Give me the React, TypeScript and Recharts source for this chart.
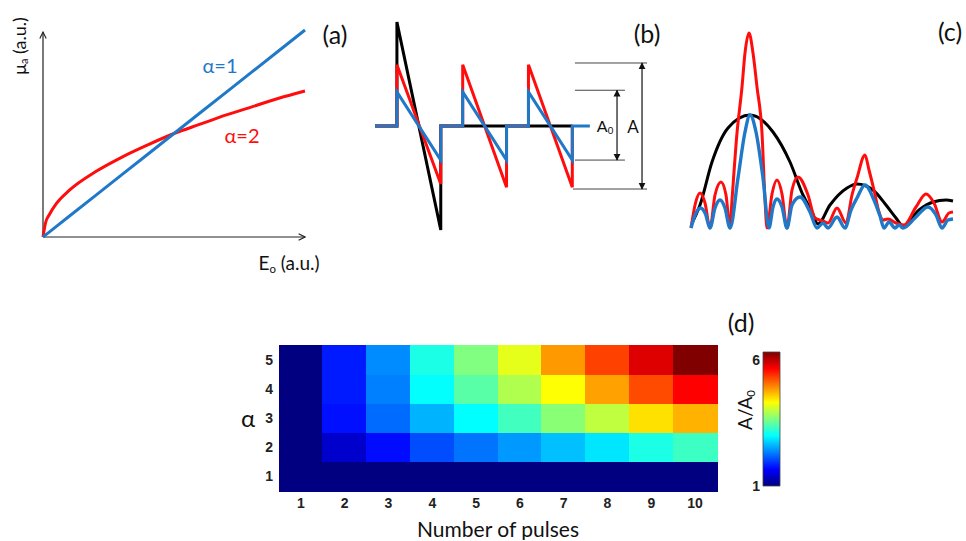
import React from "react";
import {
  LineChart,
  Line,
  XAxis,
  YAxis,
  ReferenceLine,
  ScatterChart,
  Scatter,
  BarChart,
  Bar,
} from "recharts";

// (a) absorption vs fluence
const energy = [0, 0.1, 0.25, 0.5, 1, 2, 3, 4, 5, 6, 7, 8, 9, 10];
const muAlpha1 = [0, 0.1, 0.25, 0.5, 1, 2, 3, 4, 5, 6, 7, 8, 9, 10];
const muAlpha2 = [0, 0.7, 1.1, 1.6, 2.25, 3.15, 3.85, 4.45, 5.0, 5.45, 5.9, 6.3, 6.7, 7.05];

// (b) pulse trains
const blackT = [0, 1, 1, 3, 3, 9];
const blackV = [0, 0, 3.05, -3.05, 0, 0];
const redT = [0, 1, 1, 3, 3, 4, 4, 6, 6, 7, 7, 9, 9];
const redV = [0, 0, 1.8, -1.7, 0, 0, 1.8, -1.8, 0, 0, 1.8, -1.8, 0];
const blueT = [0, 1, 1, 3, 3, 4, 4, 6, 6, 7, 7, 9, 9, 9.8];
const blueV = [0, 0, 1, -1, 0, 0, 1, -1, 0, 0, 1, -1, 0, 0];

// (c) spectra
const blackF = [0.1, 0.9, 2.1, 3.7, 5.9, 8.2, 9.9, 11.2, 12.1, 12.7, 13.9, 15.6, 16.6, 18.2, 19.5, 20.5, 21.2, 22.8, 24.2, 25.5, 26.2];
const blackS = [0.5, 2.3, 6.6, 10.0, 11.3, 9.6, 6.6, 3.3, 1.6, 0.4, 2.3, 4.0, 4.4, 3.8, 2.3, 1.0, 0.2, 1.8, 2.6, 2.8, 2.7];
const redF = [0, 0.45, 0.9, 1.4, 1.9, 2.4, 3.0, 3.5, 3.9, 4.1, 4.6, 5.1, 5.4, 5.8, 6.2, 6.6, 7.1, 7.4, 7.6, 8.1, 8.6, 9.1, 9.6, 10.1, 10.7, 11.7, 12.4, 13.2, 13.7, 14.6, 15.5, 16.1, 16.6, 17.4, 17.8, 18.3, 18.8, 19.2, 19.7, 20.5, 21.3, 22.5, 23.5, 24.3, 25.1, 25.8, 26.2];
const redS = [0, 2.5, 3.5, 2.5, 0, 3.3, 4.6, 3.3, 0, 2.8, 9.5, 14.1, 17.5, 19.5, 17.5, 14.1, 9.5, 2.8, 0, 3.4, 4.8, 3.4, 0, 3.8, 5.1, 3.3, 1.0, 0.7, 0.5, 2.0, 0.5, 3.3, 5.0, 7.3, 5.8, 3.8, 1.6, 0.8, 0.9, 0.5, 0.3, 2.1, 3.4, 2.5, 0.6, 1.5, 1.6];
const blueF = [0, 0.45, 0.95, 1.45, 1.9, 2.4, 2.9, 3.4, 3.9, 4.7, 5.4, 5.9, 6.5, 7.2, 7.8, 8.2, 8.6, 9.1, 9.6, 10.1, 10.9, 11.9, 12.6, 13.2, 13.7, 14.6, 15.4, 16.0, 16.6, 17.4, 18.3, 18.9, 19.3, 19.8, 20.4, 20.8, 21.2, 22.4, 23.7, 24.5, 25.1, 25.7, 26.2];
const blueS = [0, 1.4, 2.0, 1.4, 0, 2.0, 2.8, 2.0, 0, 5.0, 9.6, 11.3, 9.6, 5.0, 0, 2.1, 2.9, 2.1, 0, 2.3, 3.1, 1.6, 0, 0.5, 0, 1.1, 0, 1.8, 3.0, 4.3, 2.8, 1.2, 0, 0.6, 0, 0.3, 0, 1.0, 2.1, 1.3, 0, 0.8, 0.9];

// (d) A/A0 map, one array per alpha row
const pulses = [1, 2, 3, 4, 5, 6, 7, 8, 9, 10];
const alphas = [1, 2, 3, 4, 5];
const ratioAlpha1 = [1, 1, 1, 1, 1, 1, 1, 1, 1, 1];
const ratioAlpha2 = [1, 1.4, 1.72, 2.06, 2.26, 2.46, 2.66, 2.86, 3.12, 3.3];
const ratioAlpha3 = [1, 1.74, 2.22, 2.59, 2.99, 3.32, 3.7, 3.98, 4.47, 4.71];
const ratioAlpha4 = [1, 1.8, 2.33, 3.0, 3.45, 3.9, 4.3, 4.8, 5.25, 5.64];
const ratioAlpha5 = [1, 1.8, 2.39, 3.12, 3.65, 4.18, 4.84, 5.3, 5.81, 6.3];
const cbarTicks = [1, 6];
const cbarMinor = [1, 1.5, 2, 2.5, 3, 3.5, 4, 4.5, 5, 5.5, 6];

const BLUE = "#1f78c8";
const RED = "#ff0d0d";
const LABEL_FONT = "Lato, 'Open Sans', sans-serif";
const TICK_FONT = "'Liberation Sans', Arial, sans-serif";
const C_MIN = 1;
const C_MAX = 6.3;

const clamp = (v: number) => Math.max(0, Math.min(1, v));
const jet = (v: number) => {
  const t = (v - C_MIN) / (C_MAX - C_MIN);
  const r = clamp(1.5 - Math.abs(4 * t - 3));
  const g = clamp(1.5 - Math.abs(4 * t - 2));
  const b = clamp(1.5 - Math.abs(4 * t - 1));
  return `rgb(${Math.round(r * 255)},${Math.round(g * 255)},${Math.round(b * 255)})`;
};

const zip = (xs: number[], ys: number[]) => xs.map((x, i) => ({ x, y: ys[i] }));

const panelA = energy.map((e, i) => ({ e, a1: muAlpha1[i], a2: muAlpha2[i] }));

const ratioRows = [ratioAlpha1, ratioAlpha2, ratioAlpha3, ratioAlpha4, ratioAlpha5];
const cells = alphas.flatMap((a, r) =>
  pulses.map((n, c) => ({ n, a, v: ratioRows[r][c] }))
);

const HEAT_W = 438;
const HEAT_H = 146;
const CELL_W = HEAT_W / pulses.length;
const CELL_H = HEAT_H / alphas.length;

const HeatCell = (props: any) => {
  const { cx, cy, payload } = props;
  const fill = jet(payload.v);
  return (
    <rect
      x={cx - CELL_W / 2 - 0.5}
      y={cy - CELL_H / 2 - 0.5}
      width={CELL_W + 1}
      height={CELL_H + 1}
      fill={fill}
      shapeRendering="crispEdges"
    />
  );
};

const Txt = ({ x, y, size = 20, color = "#111", rotate = 0, family = LABEL_FONT, children }: any) => (
  <div
    style={{
      position: "absolute",
      left: x,
      top: y,
      transform: `translate(-50%, -50%) rotate(${rotate}deg)`,
      fontFamily: family,
      fontSize: size,
      color,
      whiteSpace: "nowrap",
      lineHeight: 1,
    }}
  >
    {children}
  </div>
);

const subStyle = { fontSize: "0.6em", verticalAlign: "-0.25em" };
const tickStyle = { fontFamily: TICK_FONT, fontSize: 14, fontWeight: "bold", fill: "#222" };

export default function App() {
  return (
    <div
      style={{
        position: "absolute",
        left: 0,
        top: 0,
        width: 966,
        height: 541,
        background: "#fff",
        overflow: "hidden",
      }}
    >
      {/* (a) */}
      <div style={{ position: "absolute", left: 0, top: 0 }}>
        <LineChart width={360} height={290} data={panelA} margin={{ top: 30, right: 55, bottom: 53, left: 43 }}>
          <defs>
            <marker id="openArrow" viewBox="0 0 10 10" refX="9" refY="5" markerWidth="8" markerHeight="8" orient="auto" markerUnits="userSpaceOnUse">
              <path d="M1,1 L9,5 L1,9" fill="none" stroke="#222" strokeWidth="1.4" />
            </marker>
          </defs>
          <XAxis type="number" dataKey="e" domain={[0, 10]} hide />
          <YAxis type="number" domain={[0, 10]} hide />
          <ReferenceLine segment={[{ x: 0, y: 0 }, { x: 10, y: 0 }]} stroke="#222" strokeWidth={1.2} markerEnd="url(#openArrow)" />
          <ReferenceLine segment={[{ x: 0, y: 0 }, { x: 0, y: 9.9 }]} stroke="#222" strokeWidth={1.2} markerEnd="url(#openArrow)" />
          <Line type="monotone" dataKey="a2" stroke={RED} strokeWidth={3} dot={false} isAnimationActive={false} />
          <Line type="linear" dataKey="a1" stroke={BLUE} strokeWidth={3} dot={false} isAnimationActive={false} />
        </LineChart>
      </div>
      <Txt x={20} y={46} size={18} rotate={-90}>
        μ<span style={subStyle}>a</span> (a.u.)
      </Txt>
      <Txt x={289} y={264} size={19}>
        E<span style={subStyle}>o</span> (a.u.)
      </Txt>
      <Txt x={220} y={65} size={20} color={BLUE}>α=1</Txt>
      <Txt x={242} y={135} size={20} color={RED}>α=2</Txt>
      <Txt x={335} y={34} size={25}>(a)</Txt>

      {/* (b) */}
      <div style={{ position: "absolute", left: 360, top: 0 }}>
        <LineChart width={310} height={250} margin={{ top: 17, right: 10, bottom: 15, left: 15 }}>
          <defs>
            <marker id="solidArrow" viewBox="0 0 10 10" refX="9" refY="5" markerWidth="7" markerHeight="8" orient="auto-start-reverse" markerUnits="userSpaceOnUse">
              <path d="M0,0 L10,5 L0,10 z" fill="#111" />
            </marker>
          </defs>
          <XAxis type="number" dataKey="x" domain={[0, 13]} hide />
          <YAxis type="number" dataKey="y" domain={[-3.2, 3.2]} hide />
          <Line data={zip(blackT, blackV)} dataKey="y" type="linear" stroke="#000" strokeWidth={3} dot={false} isAnimationActive={false} />
          <Line data={zip(redT, redV)} dataKey="y" type="linear" stroke={RED} strokeWidth={3} dot={false} isAnimationActive={false} />
          <Line data={zip(blueT, blueV)} dataKey="y" type="linear" stroke={BLUE} strokeWidth={3} dot={false} isAnimationActive={false} />
          <ReferenceLine segment={[{ x: 9.12, y: 1.85 }, { x: 12.41, y: 1.85 }]} stroke="#444" strokeWidth={1} />
          <ReferenceLine segment={[{ x: 9.12, y: 1.05 }, { x: 11.4, y: 1.05 }]} stroke="#444" strokeWidth={1} />
          <ReferenceLine segment={[{ x: 9.12, y: -1.0 }, { x: 11.4, y: -1.0 }]} stroke="#444" strokeWidth={1} />
          <ReferenceLine segment={[{ x: 9.03, y: -1.85 }, { x: 12.41, y: -1.85 }]} stroke="#444" strokeWidth={1} />
          <ReferenceLine segment={[{ x: 11.04, y: -1.0 }, { x: 11.04, y: 1.05 }]} stroke="#111" strokeWidth={1.2} markerStart="url(#solidArrow)" markerEnd="url(#solidArrow)" />
          <ReferenceLine segment={[{ x: 12.18, y: -1.85 }, { x: 12.18, y: 1.85 }]} stroke="#111" strokeWidth={1.2} markerStart="url(#solidArrow)" markerEnd="url(#solidArrow)" />
        </LineChart>
      </div>
      <Txt x={605} y={127} size={16}>
        A<span style={subStyle}>0</span>
      </Txt>
      <Txt x={633} y={126} size={17}>A</Txt>
      <Txt x={647} y={33} size={25}>(b)</Txt>

      {/* (c) */}
      <div style={{ position: "absolute", left: 680, top: 0 }}>
        <LineChart width={286} height={250} margin={{ top: 28, right: 12, bottom: 22, left: 11 }}>
          <XAxis type="number" dataKey="x" domain={[0, 26.3]} hide />
          <YAxis type="number" dataKey="y" domain={[0, 20]} hide />
          <Line data={zip(blackF, blackS)} dataKey="y" type="monotone" stroke="#000" strokeWidth={3} dot={false} isAnimationActive={false} />
          <Line data={zip(redF, redS)} dataKey="y" type="monotone" stroke={RED} strokeWidth={3} dot={false} isAnimationActive={false} />
          <Line data={zip(blueF, blueS)} dataKey="y" type="monotone" stroke={BLUE} strokeWidth={3.4} dot={false} isAnimationActive={false} />
        </LineChart>
      </div>
      <Txt x={950} y={31} size={25}>(c)</Txt>

      {/* (d) */}
      <div style={{ position: "absolute", left: 230, top: 330 }}>
        <ScatterChart width={500} height={210} margin={{ top: 15, right: 13, bottom: 0, left: 10 }}>
          <XAxis
            type="number"
            dataKey="n"
            domain={[0.5, 10.5]}
            ticks={pulses}
            tickLine={false}
            axisLine={false}
            tickSize={0}
            tickMargin={7}
            height={49}
            tick={tickStyle}
            label={{ value: "Number of pulses", position: "insideBottom", offset: 3, fontFamily: LABEL_FONT, fontSize: 21, fill: "#111" }}
          />
          <YAxis
            type="number"
            dataKey="a"
            domain={[0.5, 5.5]}
            ticks={alphas}
            tickLine={false}
            axisLine={false}
            tickSize={0}
            tickMargin={6}
            width={39}
            tick={tickStyle}
            label={{ value: "α", position: "insideLeft", angle: 0, offset: 1, fontFamily: LABEL_FONT, fontSize: 24, fill: "#111" }}
          />
          <Scatter data={cells} shape={<HeatCell />} isAnimationActive={false} />
        </ScatterChart>
      </div>
      <Txt x={741} y={322} size={25}>(d)</Txt>

      {/* colorbar */}
      <div style={{ position: "absolute", left: 720, top: 340 }}>
        <BarChart width={80} height={160} data={[{ k: "c", top: C_MAX }]} margin={{ top: 12, right: 20, bottom: 14, left: 0 }} barCategoryGap={0}>
          <defs>
            <linearGradient id="jetGrad" x1="0" y1="1" x2="0" y2="0">
              {[0, 0.125, 0.25, 0.375, 0.5, 0.625, 0.75, 0.875, 1].map((o) => (
                <stop key={o} offset={o} stopColor={jet(C_MIN + o * (C_MAX - C_MIN))} />
              ))}
            </linearGradient>
          </defs>
          <XAxis dataKey="k" hide />
          <YAxis
            domain={[C_MIN, C_MAX]}
            ticks={cbarTicks}
            tickLine={false}
            axisLine={false}
            tickSize={0}
            tickMargin={3}
            width={43}
            tick={tickStyle}
          />
          <YAxis
            yAxisId="r"
            orientation="right"
            domain={[C_MIN, C_MAX]}
            ticks={cbarMinor}
            mirror
            tick={false}
            tickSize={3}
            axisLine={false}
            width={1}
            stroke="#333"
          />
          <Bar dataKey="top" fill="url(#jetGrad)" stroke="#444" strokeWidth={0.8} isAnimationActive={false} />
        </BarChart>
      </div>
      <Txt x={746} y={410} size={19} rotate={-90}>
        A/A<span style={subStyle}>0</span>
      </Txt>
    </div>
  );
}
